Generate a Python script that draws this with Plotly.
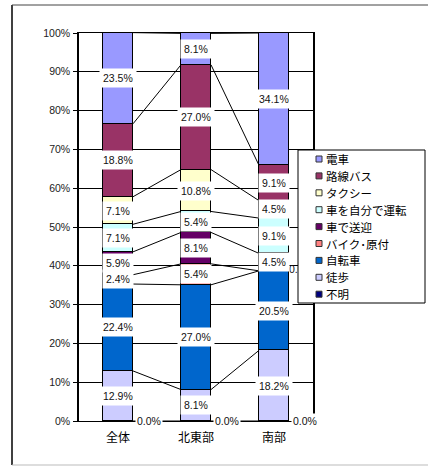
import plotly.graph_objects as go

categories = ["全体", "北東部", "南部"]
series_names = ["不明", "徒歩", "自転車", "バイク･原付", "車で送迎", "車を自分で運転", "タクシー", "路線バス", "電車"]
v_fumei = [0.0, 0.0, 0.0]
v_toho = [12.9, 8.1, 18.2]
v_jitensha = [22.4, 27.0, 20.5]
v_bike = [2.4, 5.4, 0.0]
v_sougei = [5.9, 8.1, 4.5]
v_unten = [7.1, 5.4, 9.1]
v_taxi = [7.1, 10.8, 4.5]
v_bus = [18.8, 27.0, 9.1]
v_densha = [23.5, 8.1, 34.1]
series_values = [v_fumei, v_toho, v_jitensha, v_bike, v_sougei, v_unten, v_taxi, v_bus, v_densha]
colors = ["#000080", "#CCCCFF", "#0066CC", "#FF8080", "#660066", "#CCFFFF", "#FFFFCC", "#993366", "#9999FF"]
y_ticks = [0, 10, 20, 30, 40, 50, 60, 70, 80, 90, 100]

W, H = 428, 466
L, R, T, B = 79, 115, 33, 45
PW, PH = W - L - R, H - T - B
def px(x):
    return (x - L) / PW
def py(y):
    return (H - B - y) / PH

BW = 0.385
xs = list(range(len(categories)))
fig = go.Figure()
for name, vals, col in zip(series_names, series_values, colors):
    fig.add_trace(go.Bar(x=xs, y=vals, name=name, width=BW,
                         marker=dict(color=col, line=dict(color="black", width=1)),
                         showlegend=False, hoverinfo="skip"))

# cumulative tops
cum = []
run = [0.0] * len(categories)
for vals in series_values:
    base = run[:]
    run = [a + b for a, b in zip(run, vals)]
    cum.append((base, run[:]))

# series lines
lx, ly = [], []
for base, top in cum:
    for i in range(len(categories) - 1):
        lx += [i + BW / 2, i + 1 - BW / 2, None]
        ly += [top[i], top[i + 1], None]
fig.add_trace(go.Scatter(x=lx, y=ly, mode="lines", line=dict(color="black", width=1),
                         showlegend=False, hoverinfo="skip"))

annotations = []
lab_font = dict(family="Liberation Sans, Arial", size=10.5, color="#111")
tx, ty, tt = [], [], []
for (base, top), vals in zip(cum, series_values):
    for i, v in enumerate(vals):
        if v > 0:
            annotations.append(dict(x=i, y=base[i] + v / 2, xref="x", yref="y", text=f"{v:.1f}%",
                                    xanchor="center", yanchor="middle",
                                    showarrow=False, bgcolor="white", borderpad=3, font=lab_font))
        elif base[i] == 0:
            annotations.append(dict(x=i + BW / 2, y=base[i], xref="x", yref="y", text=f"{v:.1f}%",
                                    xanchor="left", yanchor="middle", xshift=2, showarrow=False,
                                    bgcolor="white", borderpad=1, font=lab_font))
        else:
            tx.append(i + BW / 2)
            ty.append(base[i])
            tt.append(f"{v:.1f}%")
# zero labels sitting beside the stack (partly hidden behind the legend)
fig.add_trace(go.Scatter(x=tx, y=ty, text=tt, mode="text", textposition="middle right",
                         textfont=lab_font, showlegend=False, hoverinfo="skip", cliponaxis=False))

# legend (custom): box and swatches as shapes above traces, texts as annotations
shapes = [
    dict(type="rect", xref="paper", yref="paper", x0=px(298), x1=px(425), y0=py(303), y1=py(150),
         fillcolor="white", line=dict(color="black", width=1), layer="above"),
]
for k, (name, col) in enumerate(zip(series_names[::-1], colors[::-1])):
    yc = 159 + k * 16.9
    shapes.append(dict(type="rect", xref="paper", yref="paper", x0=px(316), x1=px(322),
                       y0=py(yc + 3), y1=py(yc - 3), fillcolor=col,
                       line=dict(color="#333", width=1), layer="above"))
    annotations.append(dict(x=px(324), y=py(yc), xref="paper", yref="paper", xanchor="left",
                            yanchor="middle", text=name, showarrow=False,
                            font=dict(family="Noto Sans CJK JP", size=11.5, color="black")))

shapes += [
    dict(type="line", xref="paper", yref="paper", x0=px(12), x1=px(12), y0=py(5), y1=py(465),
         line=dict(color="black", width=1.5)),
    dict(type="line", xref="paper", yref="paper", x0=px(12), x1=px(440), y0=py(5), y1=py(5),
         line=dict(color="#444", width=1)),
    dict(type="line", xref="paper", yref="paper", x0=px(12), x1=px(440), y0=py(465), y1=py(465),
         line=dict(color="#bbb", width=1)),
]

fig.update_layout(
    width=W, height=H, margin=dict(l=L, r=R, t=T, b=B),
    barmode="stack", bargap=0, plot_bgcolor="white", paper_bgcolor="white",
    annotations=annotations, shapes=shapes,
    xaxis=dict(range=[-0.5, 2.5], tickvals=xs, ticktext=categories, showgrid=False,
               showline=True, linecolor="black", linewidth=1, mirror=True, ticks="",
               ticklabelstandoff=6,
               tickfont=dict(family="Noto Sans CJK JP", size=12, color="black"), fixedrange=True),
    yaxis=dict(range=[0, 100], tickvals=y_ticks, ticktext=[f"{t}%" for t in y_ticks],
               showgrid=True, gridcolor="black", gridwidth=1, showline=True, linecolor="black",
               linewidth=1.5, mirror=True, ticks="outside", ticklen=4, tickcolor="black",
               ticklabelstandoff=1,
               tickfont=dict(family="Liberation Sans, Arial", size=10.5, color="#222"),
               zeroline=False, fixedrange=True),
)
fig.write_html("out.html", config={"displayModeBar": False},
               post_script="document.body.style.margin='0';")
